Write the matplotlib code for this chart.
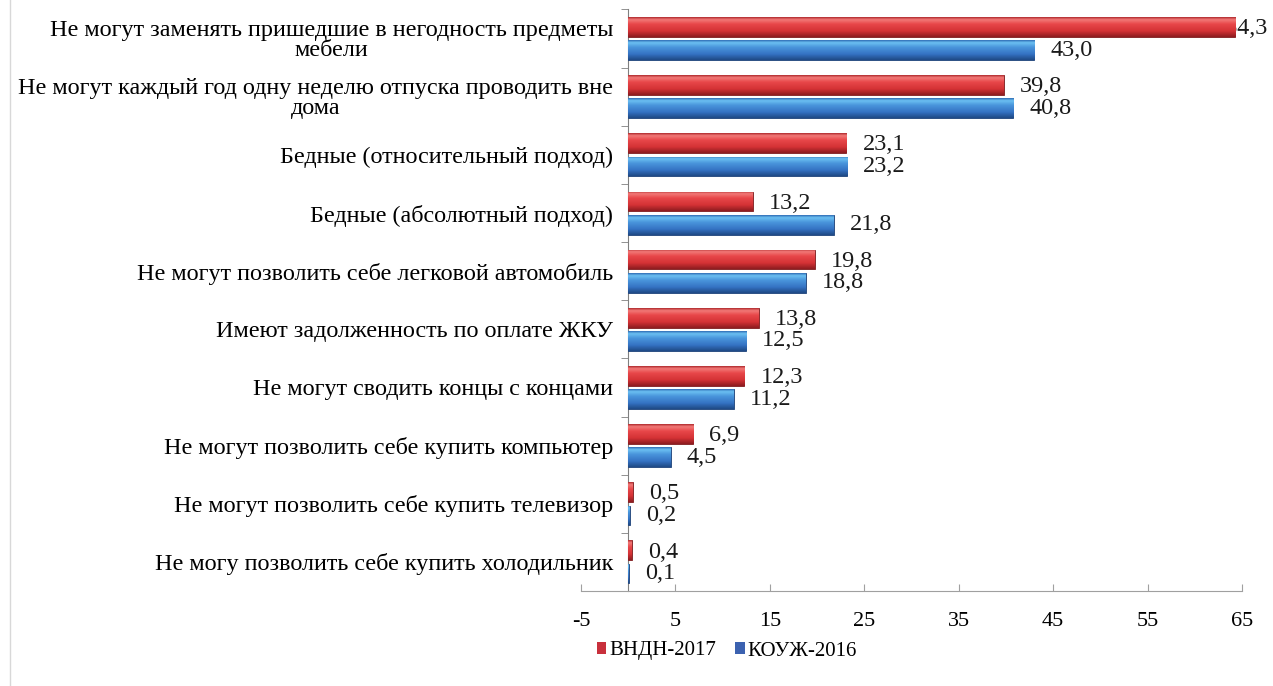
import numpy as np
import matplotlib
matplotlib.use("Agg")
import matplotlib.pyplot as plt
from matplotlib.colors import LinearSegmentedColormap
from matplotlib.patches import Patch
from matplotlib.lines import Line2D

categories = [
    "Не могут заменять пришедшие в негодность предметы\nмебели",
    "Не могут каждый год одну неделю отпуска проводить вне\nдома",
    "Бедные (относительный подход)",
    "Бедные (абсолютный подход)",
    "Не могут позволить себе легковой автомобиль",
    "Имеют задолженность по оплате ЖКУ",
    "Не могут сводить концы с концами",
    "Не могут позволить себе купить компьютер",
    "Не могут позволить себе купить телевизор",
    "Не могу позволить себе купить холодильник",
]
series_names = ["ВНДН-2017", "КОУЖ-2016"]
vndn_2017 = [64.3, 39.8, 23.1, 13.2, 19.8, 13.8, 12.3, 6.9, 0.5, 0.4]
kouzh_2016 = [43.0, 40.8, 23.2, 21.8, 18.8, 12.5, 11.2, 4.5, 0.2, 0.1]
x_ticks = [-5, 5, 15, 25, 35, 45, 55, 65]

plt.rcParams['font.family'] = ['Liberation Serif', 'DejaVu Serif']

fig = plt.figure(figsize=(12.73, 6.86), dpi=100)
W, H = 1273, 686
ax = fig.add_axes([581 / W, 1 - 591 / H, (1242 - 581) / W, (591 - 9.5) / H])

n = len(categories)
y = np.arange(n)
h = 0.34
off = 0.2

red_cmap = LinearSegmentedColormap.from_list(
    "r", [(0, "#b02a2e"), (0.12, "#f27a78"), (0.35, "#e8474a"), (0.7, "#d43235"), (1, "#8e1c20")])
blue_cmap = LinearSegmentedColormap.from_list(
    "b", [(0, "#2f6db5"), (0.12, "#6cc0f2"), (0.35, "#4a96dc"), (0.7, "#3573c4"), (1, "#1f4a86")])

bars_r = ax.barh(y - off, vndn_2017, height=h, color="#d83a3c", edgecolor="#7a1a1c",
                 linewidth=0.6, zorder=3)
bars_b = ax.barh(y + off, kouzh_2016, height=h, color="#3a7cc8", edgecolor="#1c3f75",
                 linewidth=0.6, zorder=3)

grad = np.linspace(0, 1, 64).reshape(-1, 1)
for bars, cm in ((bars_r, red_cmap), (bars_b, blue_cmap)):
    for p in bars:
        x0 = p.get_x()
        w = p.get_width()
        y0 = p.get_y()
        hh = p.get_height()
        im = ax.imshow(grad, cmap=cm, extent=(x0, x0 + w, y0 + hh, y0), origin="upper",
                       aspect="auto", zorder=3.1, interpolation="bilinear")
        im.set_clip_path(p)

ax.set_xlim(-5, 65)
ax.set_ylim(n - 0.5, -0.5)

label_fs = 17.5
for yy, v in zip(y - off, vndn_2017):
    xx = min(v + 1.7, 63.2)
    ax.text(xx, yy + 0.03, f"{v:.1f}".replace(".", ","), va="center", ha="left",
            fontsize=label_fs, color="#1a1a1a", zorder=2)
for yy, v in zip(y + off, kouzh_2016):
    ax.text(v + 1.7, yy, f"{v:.1f}".replace(".", ","), va="center", ha="left",
            fontsize=label_fs, color="#1a1a1a", zorder=2)

for s in ("top", "right"):
    ax.spines[s].set_visible(False)
ax.spines["left"].set_position(("data", 0))
ax.spines["left"].set_color("#808080")
ax.spines["bottom"].set_color("#a0a0a0")

ax.set_yticks(y)
ax.set_yticklabels(categories, fontsize=17.4, multialignment="center", linespacing=0.95)
ax.tick_params(axis="y", which="major", length=0, pad=11)
ax.set_yticks(np.arange(-0.5, n, 1.0), minor=True)
ax.tick_params(axis="y", which="minor", length=5, direction="out", color="#808080")

ax.set_xticks(x_ticks)
ax.set_xticklabels([str(t) for t in x_ticks], fontsize=16)
ax.tick_params(axis="x", length=5, direction="in", pad=15, color="#a0a0a0")

handles = [Patch(facecolor="#c8303c", edgecolor="none"),
           Patch(facecolor="#3c62b0", edgecolor="none")]
fig.legend(handles, series_names, loc="center", bbox_to_anchor=(727 / W, 1 - 651 / H),
           ncol=2, frameon=False, fontsize=15, handlelength=0.45, handleheight=0.55,
           handletextpad=0.15, columnspacing=0.9)

fig.add_artist(Line2D([10 / W, 10 / W], [0, 1], color="#d8d8d8", linewidth=1))

fig.savefig("out.png", dpi=100, facecolor="white")
